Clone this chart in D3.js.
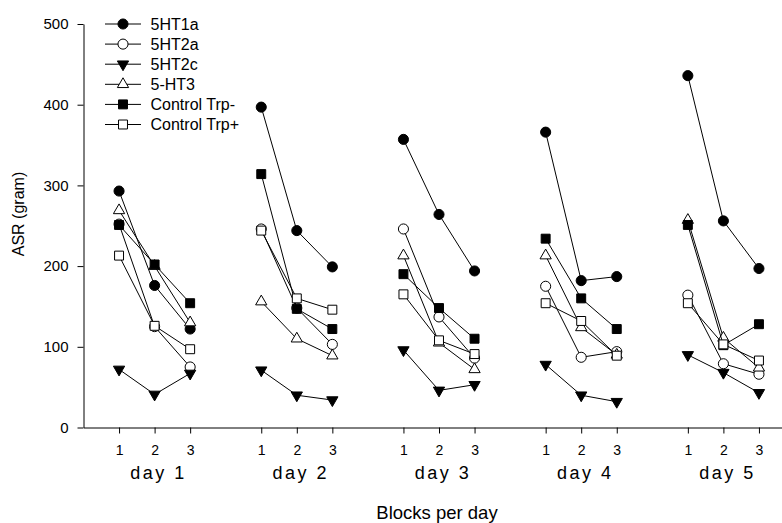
<!DOCTYPE html>
<html>
<head>
<meta charset="utf-8">
<script src="https://cdn.jsdelivr.net/npm/d3@7"></script>
<style>
  body { margin: 0; background: #fff; }
  svg { display: block; font-family: "Liberation Sans", Arial, sans-serif; }
</style>
</head>
<body>
<div id="chart"></div>
<script>
// ASR per block (3 blocks), for each of the 5 days
const days = ["day 1", "day 2", "day 3", "day 4", "day 5"];
const blocks = ["1", "2", "3"];
const yTicks = [0, 100, 200, 300, 400, 500];

const ht1a    = [[293, 176, 122], [397, 244, 199], [357, 264, 194], [366, 182, 187], [436, 256, 197]];
const ht2a    = [[252, 125, 75],  [246, 148, 103], [246, 137, 86],  [175, 87, 94],   [164, 79, 66]];
const ht2c    = [[72, 41, 67],    [71, 40, 34],    [96, 46, 53],    [78, 40, 32],    [90, 68, 43]];
const ht3     = [[269, 200, 130], [156, 110, 89],  [213, 105, 72],  [213, 124, 90],  [257, 111, 74]];
const trpMin  = [[251, 202, 154], [314, 147, 122], [190, 148, 110], [234, 160, 122], [251, 102, 128]];
const trpPlus = [[213, 126, 97],  [244, 160, 146], [165, 108, 91],  [154, 132, 89],  [154, 103, 83]];

const series = [
  {name: "5HT1a", values: ht1a, shape: "circle", fill: "#000"},
  {name: "5HT2a", values: ht2a, shape: "circle", fill: "#fff"},
  {name: "5HT2c", values: ht2c, shape: "down", fill: "#000"},
  {name: "5-HT3", values: ht3, shape: "up", fill: "#fff"},
  {name: "Control Trp-", values: trpMin, shape: "square", fill: "#000"},
  {name: "Control Trp+", values: trpPlus, shape: "square", fill: "#fff"}
];

const width = 782, height = 523;
const svg = d3.select("#chart").append("svg")
  .attr("width", width)
  .attr("height", height);

// block b on day d sits at 4*d + b (a gap of one unit between days)
const pos = (d, b) => d * 4 + b + 1;

const x = d3.scaleLinear().domain([0, 20]).range([83.5, 794.5]);
const y = d3.scaleLinear().domain([0, 500]).range([427.5, 24]);

const symbolPath = shape => {
  if (shape === "circle") return d3.symbol(d3.symbolCircle, 80)();
  if (shape === "square") return d3.symbol(d3.symbolSquare, 80)();
  return d3.symbol(d3.symbolTriangle, 55)();
};

function drawMarker(g, s, cx, cy) {
  g.append("path")
    .attr("d", symbolPath(s.shape))
    .attr("transform", `translate(${cx},${cy})` + (s.shape === "down" ? " rotate(180)" : ""))
    .attr("fill", s.fill)
    .attr("stroke", "#000")
    .attr("stroke-width", 1);
}

// axes
const tickPos = [];
days.forEach((d, i) => blocks.forEach((b, j) => tickPos.push(pos(i, j))));

const xAxis = svg.append("g")
  .attr("transform", `translate(0,${y(0)})`)
  .call(d3.axisBottom(x)
    .tickValues(tickPos)
    .tickFormat(v => blocks[(v - 1) % 4])
    .tickSize(6)
    .tickSizeOuter(0)
    .tickPadding(12));
xAxis.attr("font-family", null);
xAxis.selectAll("text").attr("font-size", 14).attr("fill", "#000");

const yAxis = svg.append("g")
  .attr("transform", `translate(${x(0)},0)`)
  .call(d3.axisLeft(y)
    .tickValues(yTicks)
    .tickSize(6)
    .tickSizeOuter(0)
    .tickPadding(9));
yAxis.attr("font-family", null);
yAxis.selectAll("text").attr("font-size", 15).attr("fill", "#000");

svg.selectAll(".domain, .tick line").attr("stroke", "#000");

// day labels
svg.selectAll("text.day")
  .data(days)
  .join("text")
  .attr("class", "day")
  .attr("x", (d, i) => x(pos(i, 1)) + 4)
  .attr("y", 473)
  .attr("dy", "0.35em")
  .attr("text-anchor", "middle")
  .attr("font-size", 18)
  .attr("letter-spacing", 2.5)
  .text(d => d);

svg.append("text")
  .attr("x", 437)
  .attr("y", 513)
  .attr("dy", "0.35em")
  .attr("text-anchor", "middle")
  .attr("font-size", 18.5)
  .text("Blocks per day");

svg.append("text")
  .attr("transform", "translate(18,214) rotate(-90)")
  .attr("dy", "0.35em")
  .attr("text-anchor", "middle")
  .attr("font-size", 16)
  .text("ASR (gram)");

// series: one polyline per day, then markers
const line = d3.line().x(d => x(d.x)).y(d => y(d.v));

series.forEach(s => {
  const g = svg.append("g");
  s.values.forEach((vals, i) => {
    const pts = vals.map((v, j) => ({x: pos(i, j), v: v}));
    g.append("path")
      .attr("d", line(pts))
      .attr("fill", "none")
      .attr("stroke", "#000")
      .attr("stroke-width", 1);
    pts.forEach(p => drawMarker(g, s, x(p.x), y(p.v)));
  });
});

// legend
const legend = svg.append("g");
series.forEach((s, i) => {
  const ly = 24 + i * 20.1;
  legend.append("line")
    .attr("x1", 105).attr("x2", 141)
    .attr("y1", ly).attr("y2", ly)
    .attr("stroke", "#000");
  drawMarker(legend, s, 123, ly);
  legend.append("text")
    .attr("x", 150.5)
    .attr("y", ly)
    .attr("dy", "0.35em")
    .attr("font-size", 16)
    .text(s.name);
});
</script>
</body>
</html>
